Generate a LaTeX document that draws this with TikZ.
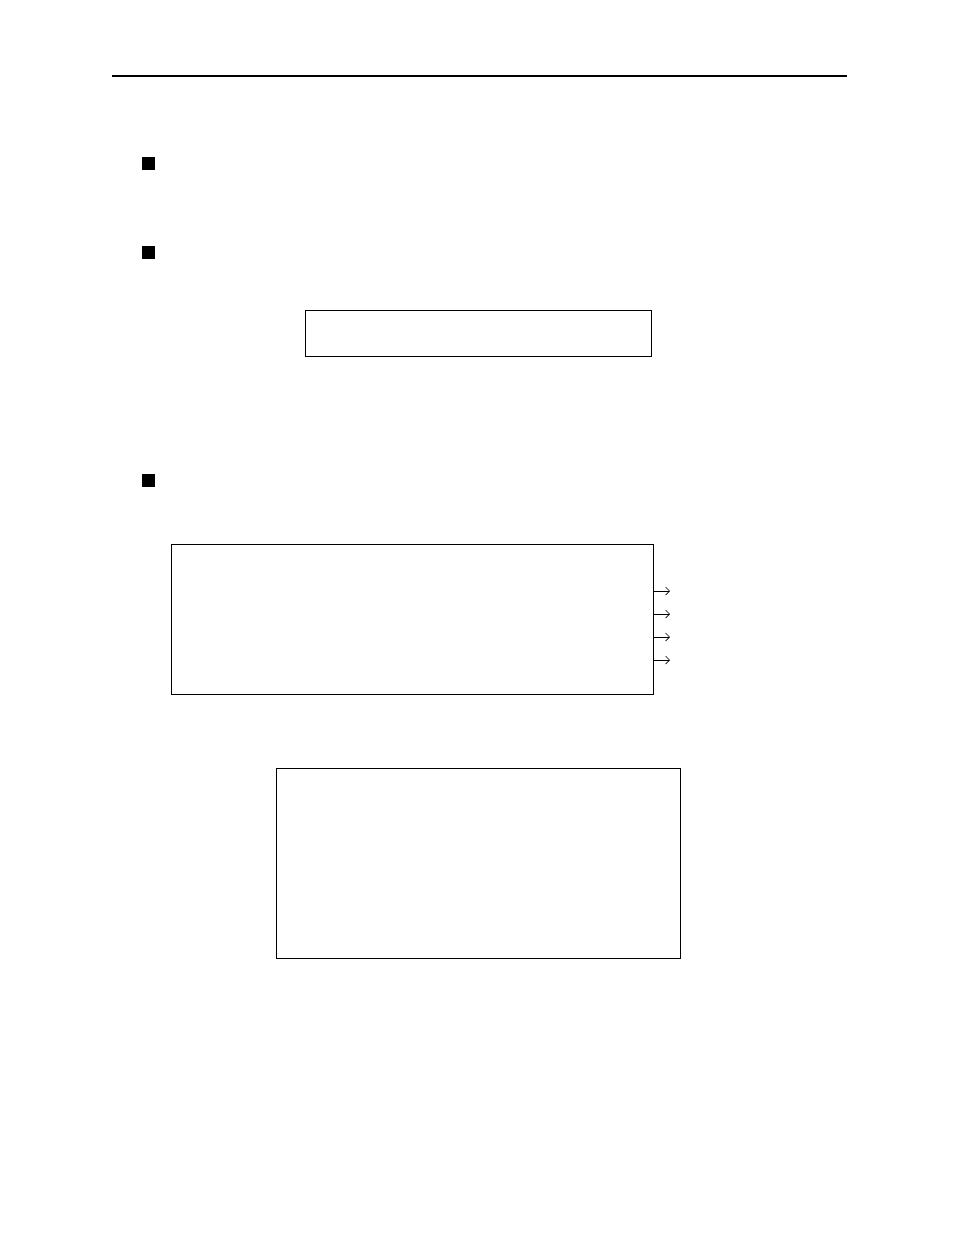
\documentclass[tikz,border=0pt]{standalone}
\usetikzlibrary{arrows.meta}
\begin{document}
\begin{tikzpicture}[x=1pt,y=-1pt,
  frame/.style={draw,line width=0.9pt,inner sep=0pt,anchor=north west},
  bullet/.style={fill=black,inner sep=0pt,minimum size=13pt,anchor=north west},
  outarrow/.style={-{Straight Barb[length=4pt,width=8pt]},line width=0.7pt}]
\useasboundingbox (0,0) rectangle (954,1235);
\draw[line width=2pt] (112,75.5) -- (847,75.5);
\node[bullet] (b1) at (142,157) {};
\node[bullet] (b2) at (142,246) {};
\node[bullet] (b3) at (142,474) {};
\node[frame,minimum width=345.5pt,minimum height=46pt] (box1) at (305,310) {};
\node[frame,minimum width=481.5pt,minimum height=150pt] (box2) at (171,544) {};
\node[frame,minimum width=403.5pt,minimum height=190pt] (box3) at (276,768) {};
\foreach \i/\yy in {1/591,2/614,3/637,4/660}{
  \coordinate (s\i) at (box2.east |- 0,\yy);
  \coordinate (e\i) at (670,\yy);
  \draw[outarrow] (s\i) -- (e\i);
}
\end{tikzpicture}
\end{document}
